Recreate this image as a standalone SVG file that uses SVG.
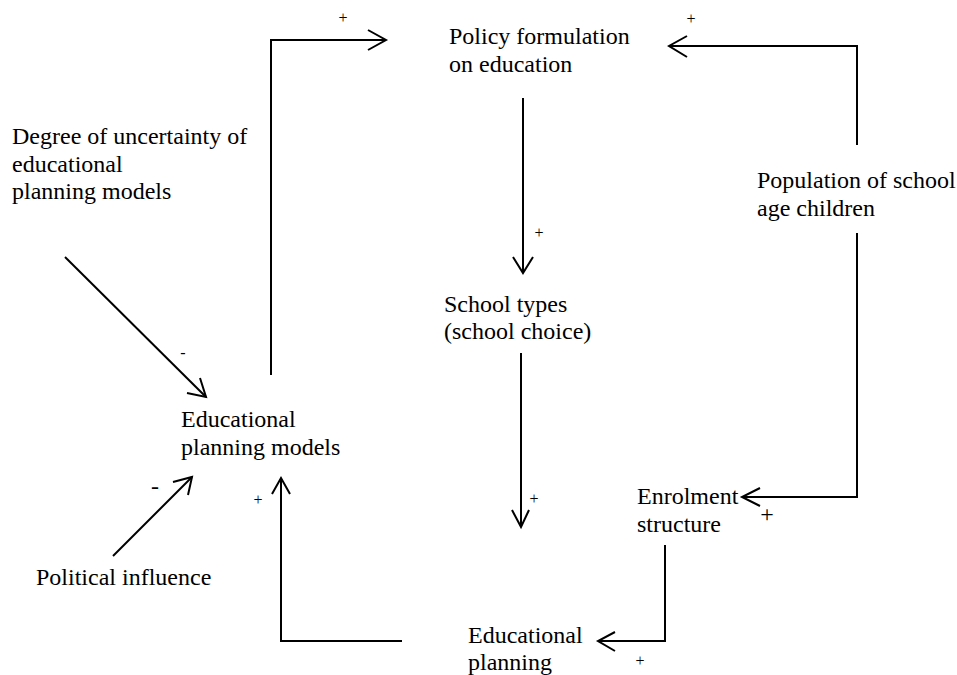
<svg xmlns="http://www.w3.org/2000/svg" width="957" height="675" viewBox="0 0 957 675">
<defs>
<style>
text{font-family:"Liberation Serif","Times New Roman",serif;fill:#000}
.n{font-size:24px}
.s{font-size:16px;text-anchor:middle}
.b{font-size:24px;text-anchor:middle}
.ln{stroke:#000;stroke-width:2;fill:none}
</style>
</defs>
<rect width="957" height="675" fill="#fff"/>
<g id="connectors">
  <polyline class="ln" points="271,375 271,40 386,40"/>
  <polyline class="ln" points="368,30 386,40 368,50"/>
  <polyline class="ln" points="857,145 857,46 669,46"/>
  <polyline class="ln" points="687,36 669,46 687,57"/>
  <line class="ln" x1="523" y1="98" x2="523" y2="273"/>
  <polyline class="ln" points="513,257 523,273 533,257"/>
  <line class="ln" x1="521" y1="353" x2="521" y2="527"/>
  <polyline class="ln" points="512,510 521,527 529,510"/>
  <polyline class="ln" points="857,233 857,497 742,497"/>
  <polyline class="ln" points="760,488 742,497 760,506"/>
  <polyline class="ln" points="665,545 665,641 598,641"/>
  <polyline class="ln" points="615,632 598,641 615,651"/>
  <polyline class="ln" points="402,641 281,641 281,478"/>
  <polyline class="ln" points="272,494 281,478 290,494"/>
  <line class="ln" x1="65" y1="257" x2="206" y2="397"/>
  <polyline class="ln" points="187,393 206,397 200,378"/>
  <line class="ln" x1="113" y1="556" x2="192" y2="477"/>
  <polyline class="ln" points="173,482 192,477 188,495"/>
  <text class="s" x="343" y="23">+</text>
  <text class="s" x="691" y="24">+</text>
  <text class="s" x="539" y="238">+</text>
  <text class="s" x="534" y="504">+</text>
  <text class="b" x="767" y="522">+</text>
  <text class="s" x="640" y="666">+</text>
  <text class="s" x="258" y="505">+</text>
  <text class="s" x="183" y="358">-</text>
  <text class="b" x="155" y="494">-</text>
</g>
<g id="node-degree"><text class="n" x="12" y="144">Degree of uncertainty of</text><text class="n" x="12" y="172">educational</text><text class="n" x="12" y="199">planning models</text></g>
<g id="node-policy"><text class="n" x="449" y="44">Policy formulation</text><text class="n" x="449" y="72">on education</text></g>
<g id="node-population"><text class="n" x="757" y="188">Population of school</text><text class="n" x="757" y="216">age children</text></g>
<g id="node-school-types"><text class="n" x="444" y="312">School types</text><text class="n" x="444" y="339">(school choice)</text></g>
<g id="node-models"><text class="n" x="181" y="427">Educational</text><text class="n" x="181" y="455">planning models</text></g>
<g id="node-enrolment"><text class="n" x="637" y="504">Enrolment</text><text class="n" x="637" y="532">structure</text></g>
<g id="node-political"><text class="n" x="36" y="585">Political influence</text></g>
<g id="node-planning"><text class="n" x="468" y="643">Educational</text><text class="n" x="468" y="670">planning</text></g>
</svg>
